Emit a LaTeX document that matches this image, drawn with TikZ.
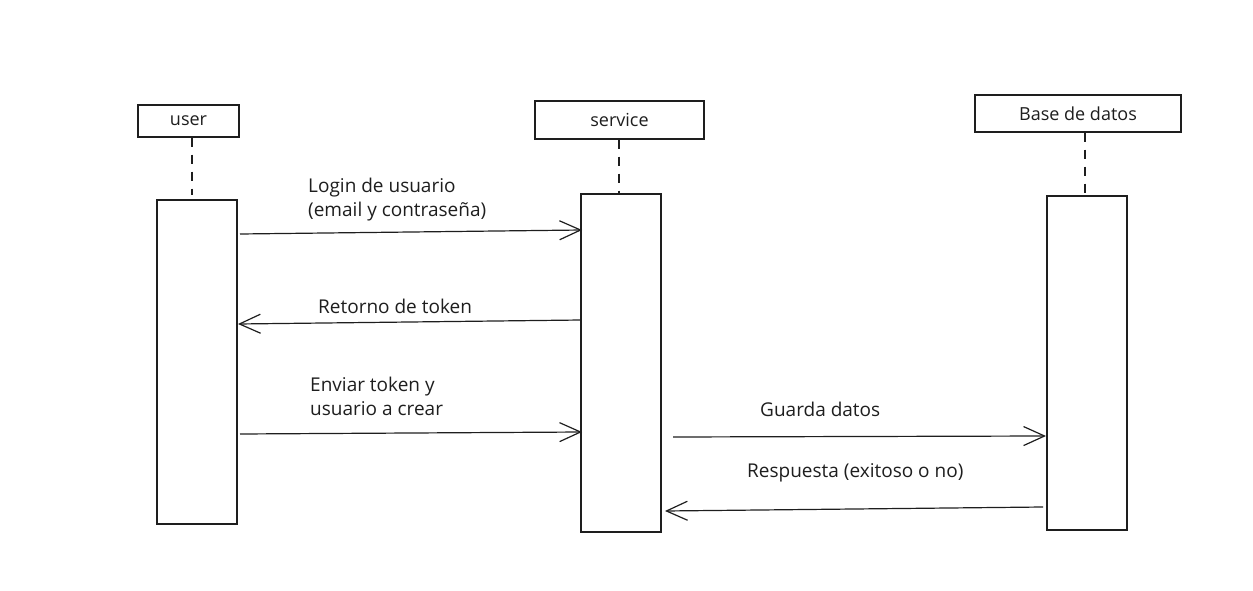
\documentclass[tikz,border=0pt]{standalone}
\usepackage{fontspec}
\setmainfont{Open Sans}
\usetikzlibrary{arrows.meta}
\definecolor{ink}{HTML}{1E1E1E}
\tikzset{
  box/.style={draw=ink, line width=1.2pt, fill=white, inner sep=0pt, font=\fontsize{18}{22}\selectfont, text=ink},
  life/.style={draw=ink, line width=1.2pt, dash pattern=on 9pt off 8pt},
  msg/.style={draw=ink, line width=1.2pt, -{Straight Barb[length=21pt,width=19pt,line width=1.2pt]}},
  lbl/.style={inner sep=0pt, anchor=base west, font=\fontsize{19}{23}\selectfont, text=ink, align=left},
}
\begin{document}
\begin{tikzpicture}[x=1pt,y=-1pt]
\useasboundingbox (0,0) rectangle (1253,591);
% headers
\node[box, minimum width=101pt, minimum height=32pt] (uh) at (188.5,121) {user};
\node[box, minimum width=169pt, minimum height=38pt] (sh) at (619.5,120) {service};
\node[box, minimum width=206pt, minimum height=37pt] (dh) at (1078,113.5) {Base de datos};
% activation bars
\node[box, minimum width=80pt, minimum height=324pt] (ua) at (197,362) {};
\node[box, minimum width=80pt, minimum height=338pt] (sa) at (621,363) {};
\node[box, minimum width=80pt, minimum height=334pt] (da) at (1087,363) {};
% lifelines
\coordinate (ul) at (192,195);
\coordinate (sl) at (619,193);
\coordinate (dl) at (1085,193);
\draw[life] (ul |- uh.south) -- (ul);
\draw[life] (sl |- sh.south) -- (sl);
\draw[life] (dl |- dh.south) -- (dl);
% message endpoints
\coordinate (m1a) at (240,234);
\coordinate (m1b) at (582,230);
\coordinate (m2a) at (581,320);
\coordinate (m2b) at (238,324);
\coordinate (m3a) at (240,434);
\coordinate (m3b) at (582,432);
\coordinate (m4a) at (673,437);
\coordinate (m4b) at (1046,436);
\coordinate (m5a) at (1043,507);
\coordinate (m5b) at (665,511);
\draw[msg] (m1a) -- (m1b);
\draw[msg] (m2a) -- (m2b);
\draw[msg] (m3a) -- (m3b);
\draw[msg] (m4a) -- (m4b);
\draw[msg] (m5a) -- (m5b);
% labels
\node[lbl] (l1) at (308,193) {Login de usuario};
\node[lbl] (l1b) at (308,216) {(email y contraseña)};
\node[lbl] (l2) at (318,313) {Retorno de token};
\node[lbl] (l3) at (310,391) {Enviar token y};
\node[lbl] (l3b) at (310,415) {usuario a crear};
\node[lbl] (l4) at (760,416) {Guarda datos};
\node[lbl] (l5) at (747,477) {Respuesta (exitoso o no)};
\end{tikzpicture}
\end{document}
